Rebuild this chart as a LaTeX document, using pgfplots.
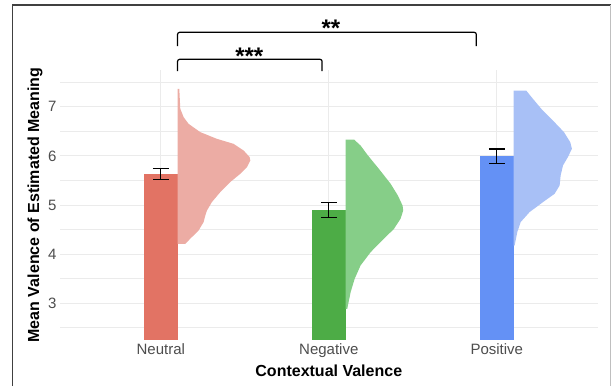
\documentclass[border=0pt]{standalone}
\usepackage{pgfplots}
\pgfplotsset{compat=1.18}
\usepackage{fontspec}
\setmainfont{Liberation Sans}
\definecolor{neuBar}{RGB}{226,115,100}
\definecolor{neuVio}{RGB}{236,172,164}
\definecolor{negBar}{RGB}{77,172,70}
\definecolor{negVio}{RGB}{134,206,136}
\definecolor{posBar}{RGB}{100,145,245}
\definecolor{posVio}{RGB}{168,192,246}
\definecolor{tickgray}{RGB}{77,77,77}
\definecolor{gridgray}{RGB}{235,235,235}
\begin{document}
\begin{tikzpicture}
\useasboundingbox (-60pt,-46pt) rectangle (551pt,340pt);
\begin{axis}[
  at={(0pt,0pt)}, anchor=south west,
  scale only axis, width=537.6pt, height=270pt,
  xmin=0.4, xmax=3.6, ymin=2.25, ymax=7.75,
  clip=false,
  axis line style={draw=none},
  tick style={draw=none},
  xtick={1,2,3}, xticklabels={Neutral,Negative,Positive},
  ytick={3,4,5,6,7}, minor ytick={2.5,3.5,4.5,5.5,6.5,7.5},
  xmajorgrids, ymajorgrids, yminorgrids,
  major grid style={color=gridgray, line width=0.9pt},
  minor grid style={color=gridgray, line width=0.6pt},
  tick label style={font=\fontsize{15}{15}\selectfont, text=tickgray},
  /pgf/number format/assume math mode=true,
  xlabel={Contextual Valence},
  ylabel={Mean Valence of Estimated Meaning},
  xlabel style={font=\fontsize{16}{16}\selectfont\bfseries, at={(axis description cs:0.5,0)}, anchor=center, yshift=-31pt},
  ylabel style={font=\fontsize{16}{16}\selectfont\bfseries, at={(axis description cs:-0.0465,0.5)}, anchor=center},
]
% bars
\addplot[fill=neuBar, draw=none] coordinates {(0.9,2.25) (0.9,5.63) (1.1,5.63) (1.1,2.25)} -- cycle;
\addplot[fill=negBar, draw=none] coordinates {(1.9,2.25) (1.9,4.90) (2.1,4.90) (2.1,2.25)} -- cycle;
\addplot[fill=posBar, draw=none] coordinates {(2.9,2.25) (2.9,5.99) (3.1,5.99) (3.1,2.25)} -- cycle;
% half violins
\addplot[fill=neuVio, draw=none] coordinates {(1.100,7.367) (1.110,7.367) (1.116,6.959) (1.136,6.790) (1.165,6.654) (1.235,6.484) (1.334,6.348) (1.433,6.246) (1.493,6.110) (1.529,5.975) (1.533,5.907) (1.513,5.771) (1.473,5.635) (1.413,5.466) (1.354,5.262) (1.304,5.059) (1.275,4.888) (1.265,4.786) (1.255,4.652) (1.225,4.481) (1.175,4.312) (1.146,4.210) (1.100,4.210)} -- cycle;
\addplot[fill=negVio, draw=none] coordinates {(2.100,6.334) (2.150,6.334) (2.189,6.212) (2.233,6.008) (2.298,5.737) (2.368,5.432) (2.411,5.194) (2.439,4.990) (2.443,4.888) (2.427,4.719) (2.388,4.515) (2.328,4.312) (2.249,4.040) (2.189,3.768) (2.154,3.497) (2.130,3.226) (2.110,2.886) (2.100,2.886)} -- cycle;
\addplot[fill=posVio, draw=none] coordinates {(3.100,7.332) (3.175,7.332) (3.215,7.163) (3.265,6.959) (3.334,6.721) (3.400,6.484) (3.437,6.281) (3.447,6.145) (3.423,5.975) (3.394,5.805) (3.380,5.601) (3.374,5.397) (3.344,5.228) (3.275,5.059) (3.195,4.855) (3.142,4.652) (3.122,4.448) (3.106,4.175) (3.100,4.175)} -- cycle;
% error bars
\addplot[draw=none, mark=none, error bars/.cd, y dir=both, y explicit,
  error bar style={line width=1.2pt, black},
  error mark options={rotate=90, mark size=8pt, line width=1.2pt, black}]
  coordinates {(1,5.63) +- (0,0.115) (2,4.90) +- (0,0.155) (3,5.99) +- (0,0.15)};
% significance brackets
\draw[line width=1.2pt, rounded corners=2pt] (axis cs:1.1,8.238) -- (axis cs:1.1,8.517) -- (axis cs:2.878,8.517) -- (axis cs:2.878,8.238);
\draw[line width=1.2pt, rounded corners=2pt] (axis cs:1.1,7.729) -- (axis cs:1.1,7.967) -- (axis cs:1.960,7.967) -- (axis cs:1.960,7.729);
\node[anchor=base, inner sep=0pt, font=\fontsize{24}{24}\selectfont\bfseries] at (axis cs:1.527,7.86) {***};
\node[anchor=base, inner sep=0pt, font=\fontsize{24}{24}\selectfont\bfseries] at (axis cs:2.013,8.44) {**};
\end{axis}
% outer frame
\draw[line width=1.6pt, color=black!75] (-47.5pt,-46pt) -- (-47.5pt,335pt) -- (551pt,335pt);
\draw[line width=0.8pt, color=black!25] (550pt,335pt) -- (550pt,-46pt);
\end{tikzpicture}
\end{document}
